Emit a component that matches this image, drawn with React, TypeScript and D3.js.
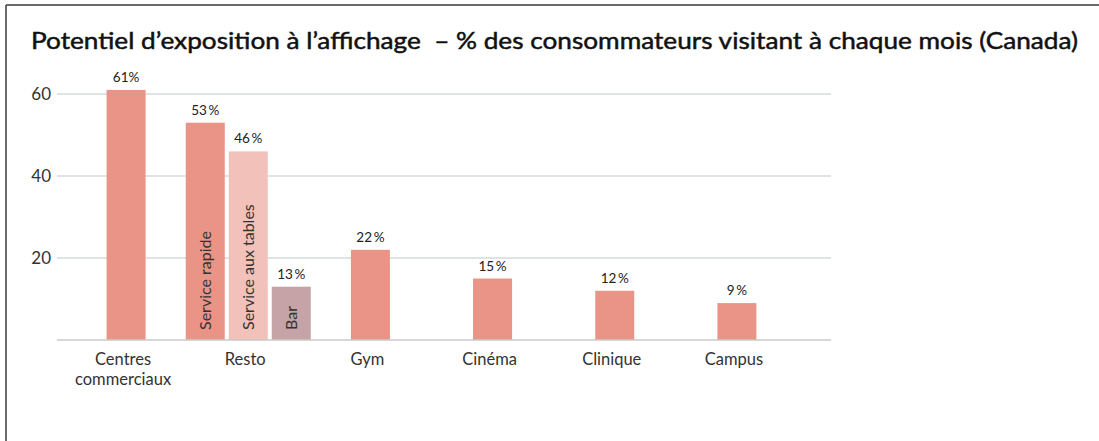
import React from "react";
import * as d3 from "d3";

const titleText = "Potentiel d’exposition à l’affichage  – % des consommateurs visitant à chaque mois (Canada)";
const categories = ["Centres commerciaux", "Resto", "Gym", "Cinéma", "Clinique", "Campus"];
const singleValues: (number | null)[] = [61, null, 22, 15, 12, 9];
const singleLabels = ["61%", "", "22\u2009%", "15\u2009%", "12\u2009%", "9\u2009%"];
const restoSubs = ["Service rapide", "Service aux tables", "Bar"];
const restoValues = [53, 46, 13];
const restoLabels = ["53\u2009%", "46\u2009%", "13\u2009%"];
const restoColors = ["#E99487", "#F2C1B9", "#C5A3A7"];
const yTicks = [20, 40, 60];

const W = 1099;
const H = 441;
const FONT = "Lato, 'Open Sans', sans-serif";
const MAIN = "#E99487";

export default function App() {
  const y = d3.scaleLinear().domain([0, 60]).range([340, 94]);
  const x = d3.scalePoint<string>().domain(categories).range([65, 798]).padding(0.5);
  const barW = 39;
  const grid0 = 57;
  const grid1 = 831;
  const restoCx = x("Resto")!;
  const sub = d3
    .scaleBand<string>()
    .domain(restoSubs)
    .range([restoCx - 62.5, restoCx + 62.5])
    .paddingInner(4 / 43)
    .paddingOuter(0);

  return (
    <svg
      width={W}
      height={H}
      style={{ position: "absolute", left: 0, top: 0, background: "#fff" }}
    >
      <line x1={6} y1={5} x2={W} y2={5} stroke="#3a3a3a" strokeWidth={1.5} />
      <line x1={6} y1={5} x2={6} y2={H} stroke="#3a3a3a" strokeWidth={1.5} />
      <text
        x={31}
        y={49}
        fontFamily={FONT}
        fontSize={24}
        fontWeight={400}
        fill="#111"
        stroke="#111"
        strokeWidth={0.5}
        textLength={1047}
        lengthAdjust="spacingAndGlyphs"
        style={{ whiteSpace: "pre" }}
      >
        {titleText}
      </text>
      {yTicks.map((t) => (
        <g key={t}>
          <line x1={grid0} x2={grid1} y1={y(t)} y2={y(t)} stroke="#D5DADA" strokeWidth={1.5} />
          <text
            x={51}
            y={y(t)}
            dy="0.35em"
            textAnchor="end"
            fontFamily={FONT}
            fontSize={17}
            fill="#333"
          >
            {t}
          </text>
        </g>
      ))}
      {categories.map((c, i) => {
        const v = singleValues[i];
        if (v == null) return null;
        const cx = x(c)!;
        return (
          <g key={c}>
            <rect x={cx - barW / 2} y={y(v)} width={barW} height={y(0) - y(v)} fill={MAIN} />
            <text
              x={cx}
              y={y(v) - 8}
              textAnchor="middle"
              fontFamily={FONT}
              fontSize={13.5}
              fill="#222"
            >
              {singleLabels[i]}
            </text>
          </g>
        );
      })}
      {restoSubs.map((s, i) => {
        const bx = sub(s)!;
        const bw = sub.bandwidth();
        const v = restoValues[i];
        return (
          <g key={s}>
            <rect x={bx} y={y(v)} width={bw} height={y(0) - y(v)} fill={restoColors[i]} />
            <text
              x={bx + bw / 2}
              y={y(v) - 8}
              textAnchor="middle"
              fontFamily={FONT}
              fontSize={13.5}
              fill="#222"
            >
              {restoLabels[i]}
            </text>
            <text
              transform={`translate(${bx + bw / 2 + 6},${y(0) - 10}) rotate(-90)`}
              fontFamily={FONT}
              fontSize={16}
              fill="#333"
            >
              {s}
            </text>
          </g>
        );
      })}
      <line x1={grid0} x2={grid1} y1={y(0)} y2={y(0)} stroke="#C8CACA" strokeWidth={1.5} />
      {categories.map((c) => {
        const cx = x(c)! - 3;
        const words = c === "Centres commerciaux" ? ["Centres", "commerciaux"] : [c];
        return (
          <text
            key={c}
            x={cx}
            y={365}
            textAnchor="middle"
            fontFamily={FONT}
            fontSize={16.5}
            fill="#333"
          >
            {words.map((w, k) => (
              <tspan key={k} x={cx} dy={k === 0 ? 0 : 20}>
                {w}
              </tspan>
            ))}
          </text>
        );
      })}
    </svg>
  );
}
